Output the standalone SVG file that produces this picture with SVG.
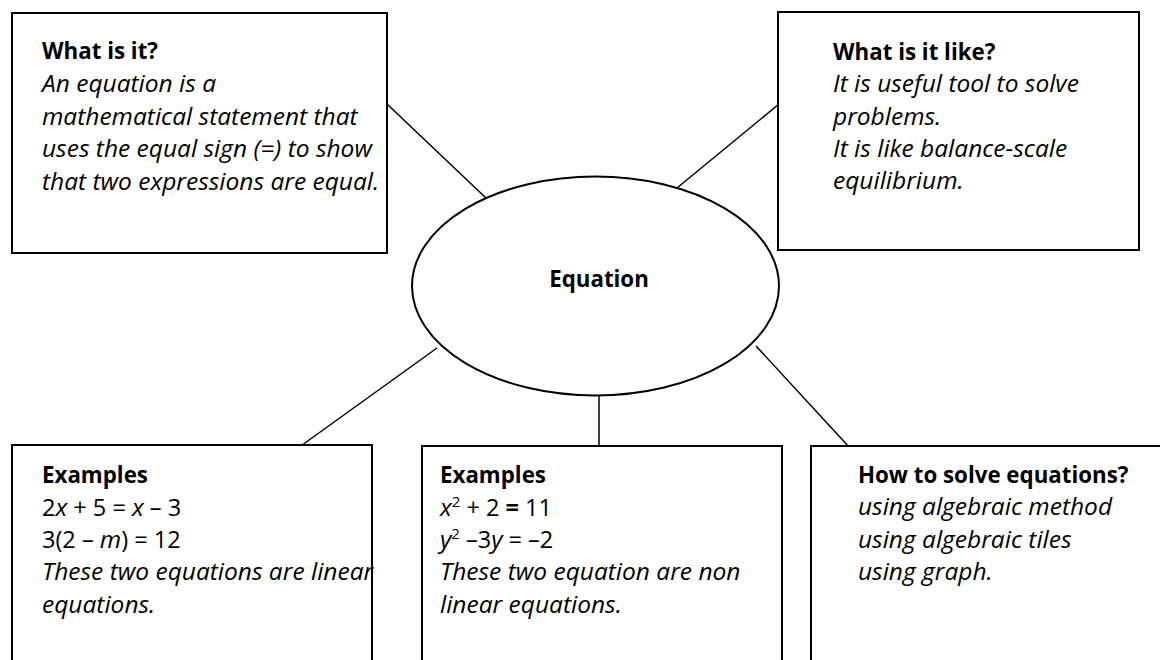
<svg xmlns="http://www.w3.org/2000/svg" width="1160" height="660" viewBox="0 0 1160 660">
  <style>
    .box { fill: #ffffff; stroke: #000000; stroke-width: 2; }
    .conn { stroke: #000000; stroke-width: 1.5; fill: none; }
    text { font-family: "Open Sans", "Liberation Sans", sans-serif; font-size: 23.5px; fill: #000000; }
    .b { font-weight: bold; font-size: 22.3px; }
    .i { font-style: italic; font-size: 24.5px; }
    .r { font-style: normal; font-size: 23.5px; }
    .sup { font-size: 15px; font-style: normal; }
  </style>
  <rect width="1160" height="660" fill="#ffffff"/>
  <g id="connectors">
    <line class="conn" x1="387" y1="104" x2="486" y2="198"/>
    <line class="conn" x1="779" y1="104" x2="677" y2="188"/>
    <line class="conn" x1="437" y1="348" x2="298" y2="448"/>
    <line class="conn" x1="599" y1="393" x2="599" y2="448"/>
    <line class="conn" x1="756" y1="346" x2="850" y2="448"/>
  </g>
  <g id="node-what">
    <rect class="box" x="12" y="13" width="375" height="240"/>
    <text x="42" y="59" class="b">What is it?</text>
    <text x="42" y="92" class="i">An equation is a</text>
    <text x="42" y="124.5" class="i">mathematical statement that</text>
    <text x="42" y="157" class="i">uses the equal sign (=) to show</text>
    <text x="42" y="190" class="i">that two expressions are equal.</text>
  </g>
  <g id="node-like">
    <rect class="box" x="778" y="12" width="361" height="238"/>
    <text x="833" y="60" class="b">What is it like?</text>
    <text x="833" y="92" class="i">It is useful tool to solve</text>
    <text x="833" y="124.5" class="i">problems.</text>
    <text x="833" y="157" class="i">It is like balance-scale</text>
    <text x="833" y="189" class="i">equilibrium.</text>
  </g>
  <g id="node-equation">
    <ellipse class="box" cx="595.5" cy="286" rx="183.5" ry="109.5"/>
    <text x="599" y="287" class="b" text-anchor="middle">Equation</text>
  </g>
  <g id="node-examples-linear">
    <rect class="box" x="12" y="445" width="360" height="260"/>
    <text x="42" y="483" class="b">Examples</text>
    <text x="42" y="516" class="r">2<tspan class="i">x</tspan> + 5 = <tspan class="i">x</tspan> – 3</text>
    <text x="42" y="548" class="r">3(2 – <tspan class="i">m</tspan>) = 12</text>
    <text x="42" y="580" class="i">These two equations are linear</text>
    <text x="42" y="613" class="i">equations.</text>
  </g>
  <g id="node-examples-nonlinear">
    <rect class="box" x="422" y="446" width="360" height="260"/>
    <text x="440" y="483" class="b">Examples</text>
    <text x="440" y="516" class="r"><tspan class="i">x</tspan><tspan class="sup" dy="-9">2</tspan><tspan dy="9"> + 2 </tspan><tspan font-weight="bold">=</tspan> 11</text>
    <text x="440" y="548" class="r"><tspan class="i">y</tspan><tspan class="sup" dy="-9">2</tspan><tspan dy="9"> –3</tspan><tspan class="i">y</tspan> = –2</text>
    <text x="440" y="580" class="i">These two equation are non</text>
    <text x="440" y="613" class="i">linear equations.</text>
  </g>
  <g id="node-solve">
    <rect class="box" x="811" y="446" width="400" height="260"/>
    <text x="858" y="483" class="b">How to solve equations?</text>
    <text x="858" y="515" class="i">using algebraic method</text>
    <text x="858" y="548" class="i">using algebraic tiles</text>
    <text x="858" y="580" class="i">using graph.</text>
  </g>
</svg>
